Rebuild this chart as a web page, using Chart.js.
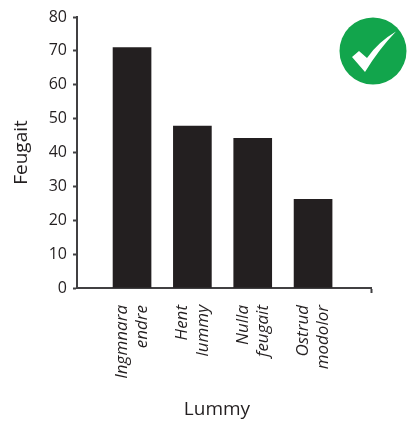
<!DOCTYPE html>
<html>
<head>
<meta charset="utf-8">
<style>
    html, body { margin: 0; padding: 0; background: #fff; }
    #wrap { position: relative; width: 407px; height: 428px; }
    #badge { position: absolute; left: 339px; top: 17px; }
</style>
<script src="https://cdn.jsdelivr.net/npm/chart.js@4"></script>
</head>
<body>
<div id="wrap">
    <canvas id="chart" width="407" height="428"></canvas>
    <svg id="badge" width="68" height="68" viewBox="0 0 68 68">
        <circle cx="34" cy="34" r="33.5" fill="#12a54c"/>
        <path d="M13 40 L20 34 L28 41 Q39 25 57 14.5 Q40 32 26 55 Z" fill="#fff"/>
    </svg>
</div>
<script>
const categories = [["Ingmnara", "endre"], ["Hent", "lummy"], ["Nulla", "feugait"], ["Ostrud", "modolor"]]
const values = [71, 47.8, 44.2, 26.2]
const yTicks = [0, 10, 20, 30, 40, 50, 60, 70, 80]
const xTitle = "Lummy"
const yTitle = "Feugait"

const ink = "#231f20"
const axisInk = "#414042"
const font = "'Open Sans', 'Noto Sans', sans-serif"
const xMax = 3.96
const labelShift = -0.166   // centra le due righe dell'etichetta sotto la barra

// titolo asse x: sta a sinistra del centro dell'asse, quindi lo disegno a mano
const xTitlePlugin = {
    id: "xTitlePlugin",
    afterDraw(chart) {
        const ctx = chart.ctx
        ctx.save()
        ctx.font = "19px " + font
        ctx.fillStyle = ink
        ctx.textAlign = "center"
        ctx.textBaseline = "middle"
        ctx.fillText(xTitle, 217, 410)
        ctx.restore()
    },
}

new Chart(document.getElementById("chart"), {
    type: "bar",
    data: {
        datasets: [
            {
                data: values.map((v, i) => ({ x: i, y: v })),
                backgroundColor: ink,
                barThickness: 38,
            },
        ],
    },
    plugins: [xTitlePlugin],
    options: {
        responsive: false,
        animation: false,
        layout: { padding: { top: 17, right: 36, left: 0, bottom: 0 } },
        plugins: {
            legend: { display: false },
            tooltip: { enabled: false },
        },
        scales: {
            x: {
                type: "linear",
                offset: false,
                min: -0.912,
                max: xMax,
                afterFit(scale) { scale.height = 140 },
                // un tick per barra, piu quello in fondo all'asse
                afterBuildTicks(scale) {
                    scale.ticks = categories.map((c, i) => ({ value: i + labelShift })).concat({ value: xMax })
                },
                border: { color: axisInk, width: 2 },
                grid: {
                    offset: false,
                    drawOnChartArea: false,
                    tickLength: 5,
                    tickWidth: 2,
                    tickColor: (ctx) => (ctx.index === categories.length ? axisInk : "transparent"),
                },
                ticks: {
                    autoSkip: false,
                    maxRotation: 90,
                    minRotation: 90,
                    padding: 12,
                    color: ink,
                    font: { family: font, size: 17, style: "italic", lineHeight: 1.2 },
                    callback: (v, i) => categories[i] || "",
                },
            },
            y: {
                min: 0,
                max: 80,
                afterFit(scale) { scale.width = 77 },
                afterBuildTicks(scale) {
                    scale.ticks = yTicks.map((v) => ({ value: v }))
                },
                border: { color: axisInk, width: 2 },
                grid: {
                    drawOnChartArea: false,
                    tickLength: 4,
                    tickWidth: 2,
                    tickColor: axisInk,
                },
                ticks: {
                    padding: 6,
                    color: ink,
                    font: { family: font, size: 16 },
                },
                title: {
                    display: true,
                    text: yTitle,
                    color: ink,
                    padding: { top: 10, bottom: 0 },
                    font: { family: font, size: 19 },
                },
            },
        },
    },
})
</script>
</body>
</html>
